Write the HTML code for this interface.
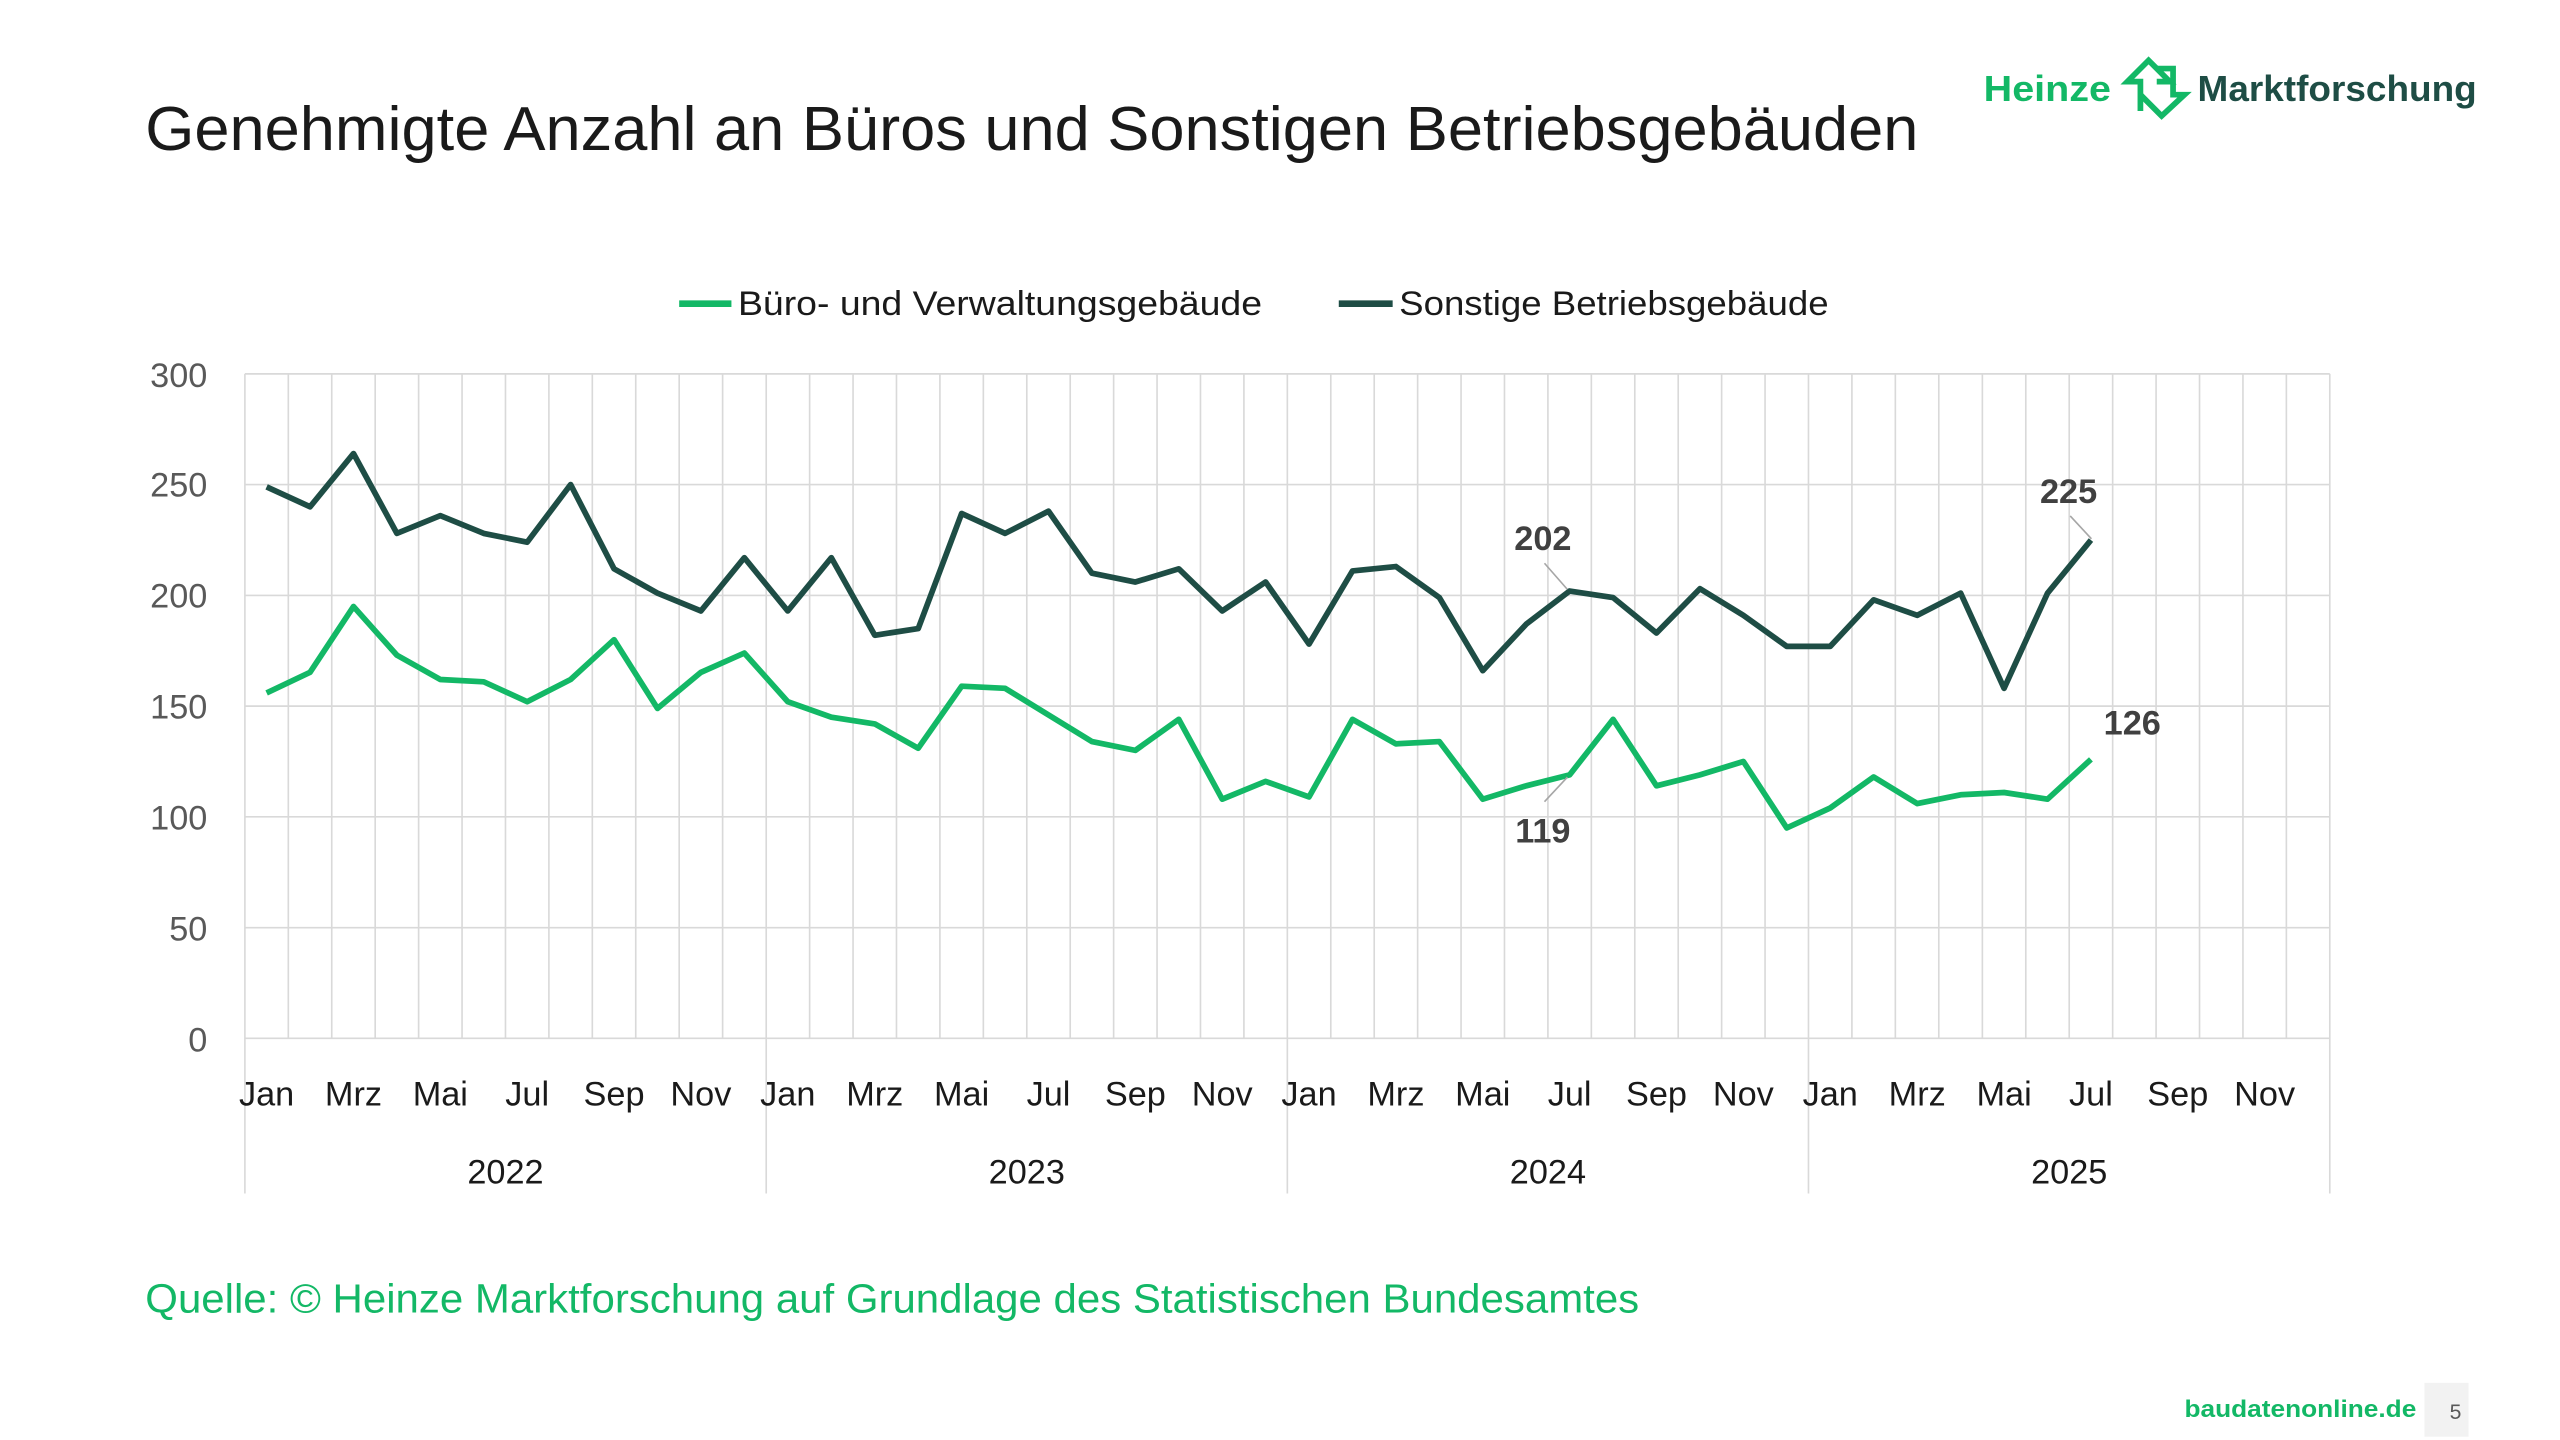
<!DOCTYPE html>
<html><head><meta charset="utf-8"><style>
html,body{margin:0;padding:0;background:#fff;}
svg{display:block;}
text{font-family:"Liberation Sans",sans-serif;}
</style></head><body>
<svg width="2560" height="1440" viewBox="0 0 1568 882" xmlns="http://www.w3.org/2000/svg">
<rect width="1568" height="882" fill="#fff"/>
<text x="89" y="92" font-size="38" fill="#1a1a1a" textLength="1086" lengthAdjust="spacingAndGlyphs">Genehmigte Anzahl an Büros und Sonstigen Betriebsgebäuden</text>
<text x="1215" y="62" font-size="22" font-weight="bold" fill="#13b866" textLength="78" lengthAdjust="spacingAndGlyphs">Heinze</text>
<g fill="none" stroke="#13b866" stroke-width="3.5">
<path d="M1311 68 V50 H1303 L1316 37 L1329 50 H1321"/>
<path d="M1321 42 H1331 V58 H1338 L1324 71 L1311 58"/>
</g>
<text x="1346" y="62" font-size="22" font-weight="bold" fill="#1e4d45" textLength="171" lengthAdjust="spacingAndGlyphs">Marktforschung</text>
<line x1="416" y1="186" x2="448" y2="186" stroke="#13b866" stroke-width="4"/>
<text x="452" y="193" font-size="21" fill="#1a1a1a" textLength="321" lengthAdjust="spacingAndGlyphs">Büro- und Verwaltungsgebäude</text>
<line x1="820" y1="186" x2="853" y2="186" stroke="#1e4d45" stroke-width="4"/>
<text x="857" y="193" font-size="21" fill="#1a1a1a" textLength="263" lengthAdjust="spacingAndGlyphs">Sonstige Betriebsgebäude</text>
<g stroke="#d9d9d9" stroke-width="1">
<line x1="150" x2="1427" y1="636" y2="636"/><line x1="150" x2="1427" y1="568.2" y2="568.2"/><line x1="150" x2="1427" y1="500.3" y2="500.3"/><line x1="150" x2="1427" y1="432.5" y2="432.5"/><line x1="150" x2="1427" y1="364.7" y2="364.7"/><line x1="150" x2="1427" y1="296.8" y2="296.8"/><line x1="150" x2="1427" y1="229" y2="229"/>
<line x1="150" x2="150" y1="229" y2="731"/><line x1="176.6" x2="176.6" y1="229" y2="636"/><line x1="203.2" x2="203.2" y1="229" y2="636"/><line x1="229.8" x2="229.8" y1="229" y2="636"/><line x1="256.4" x2="256.4" y1="229" y2="636"/><line x1="283" x2="283" y1="229" y2="636"/><line x1="309.6" x2="309.6" y1="229" y2="636"/><line x1="336.2" x2="336.2" y1="229" y2="636"/><line x1="362.8" x2="362.8" y1="229" y2="636"/><line x1="389.4" x2="389.4" y1="229" y2="636"/><line x1="416" x2="416" y1="229" y2="636"/><line x1="442.6" x2="442.6" y1="229" y2="636"/>
<line x1="469.3" x2="469.3" y1="229" y2="731"/><line x1="495.9" x2="495.9" y1="229" y2="636"/><line x1="522.5" x2="522.5" y1="229" y2="636"/><line x1="549.1" x2="549.1" y1="229" y2="636"/><line x1="575.7" x2="575.7" y1="229" y2="636"/><line x1="602.3" x2="602.3" y1="229" y2="636"/><line x1="628.9" x2="628.9" y1="229" y2="636"/><line x1="655.5" x2="655.5" y1="229" y2="636"/><line x1="682.1" x2="682.1" y1="229" y2="636"/><line x1="708.7" x2="708.7" y1="229" y2="636"/><line x1="735.3" x2="735.3" y1="229" y2="636"/><line x1="761.9" x2="761.9" y1="229" y2="636"/>
<line x1="788.5" x2="788.5" y1="229" y2="731"/><line x1="815.1" x2="815.1" y1="229" y2="636"/><line x1="841.7" x2="841.7" y1="229" y2="636"/><line x1="868.3" x2="868.3" y1="229" y2="636"/><line x1="894.9" x2="894.9" y1="229" y2="636"/><line x1="921.5" x2="921.5" y1="229" y2="636"/><line x1="948.1" x2="948.1" y1="229" y2="636"/><line x1="974.7" x2="974.7" y1="229" y2="636"/><line x1="1001.3" x2="1001.3" y1="229" y2="636"/><line x1="1027.9" x2="1027.9" y1="229" y2="636"/><line x1="1054.5" x2="1054.5" y1="229" y2="636"/><line x1="1081.1" x2="1081.1" y1="229" y2="636"/>
<line x1="1107.7" x2="1107.7" y1="229" y2="731"/><line x1="1134.3" x2="1134.3" y1="229" y2="636"/><line x1="1160.9" x2="1160.9" y1="229" y2="636"/><line x1="1187.5" x2="1187.5" y1="229" y2="636"/><line x1="1214.2" x2="1214.2" y1="229" y2="636"/><line x1="1240.8" x2="1240.8" y1="229" y2="636"/><line x1="1267.4" x2="1267.4" y1="229" y2="636"/><line x1="1294" x2="1294" y1="229" y2="636"/><line x1="1320.6" x2="1320.6" y1="229" y2="636"/><line x1="1347.2" x2="1347.2" y1="229" y2="636"/><line x1="1373.8" x2="1373.8" y1="229" y2="636"/><line x1="1400.4" x2="1400.4" y1="229" y2="636"/>
<line x1="1427" x2="1427" y1="229" y2="731"/>
</g>
<g font-size="21" fill="#595959" text-anchor="end">
<text x="127" y="644">0</text><text x="127" y="576">50</text><text x="127" y="508">100</text><text x="127" y="440">150</text><text x="127" y="372">200</text><text x="127" y="304">250</text><text x="127" y="237">300</text>
</g>
<g font-size="21" fill="#1a1a1a" text-anchor="middle">
<text x="163.3" y="677">Jan</text><text x="216.5" y="677">Mrz</text><text x="269.7" y="677">Mai</text><text x="322.9" y="677">Jul</text><text x="376.1" y="677">Sep</text><text x="429.3" y="677">Nov</text>
<text x="482.5" y="677">Jan</text><text x="535.8" y="677">Mrz</text><text x="589" y="677">Mai</text><text x="642.2" y="677">Jul</text><text x="695.4" y="677">Sep</text><text x="748.6" y="677">Nov</text>
<text x="801.8" y="677">Jan</text><text x="855" y="677">Mrz</text><text x="908.2" y="677">Mai</text><text x="961.4" y="677">Jul</text><text x="1014.6" y="677">Sep</text><text x="1067.8" y="677">Nov</text>
<text x="1121" y="677">Jan</text><text x="1174.3" y="677">Mrz</text><text x="1227.5" y="677">Mai</text><text x="1280.7" y="677">Jul</text><text x="1333.9" y="677">Sep</text><text x="1387.1" y="677">Nov</text>
<text x="309.6" y="725">2022</text><text x="628.9" y="725">2023</text><text x="948.1" y="725">2024</text><text x="1267.4" y="725">2025</text>
</g>
<polyline fill="none" stroke="#1e4d45" stroke-width="3.5" stroke-linejoin="round" points="163.3,298.2 189.9,310.4 216.5,277.8 243.1,326.7 269.7,315.8 296.3,326.7 322.9,332.1 349.5,296.8 376.1,348.4 402.7,363.3 429.3,374.2 455.9,341.6 482.5,374.2 509.2,341.6 535.8,389.1 562.4,385.0 589.0,314.5 615.6,326.7 642.2,313.1 668.8,351.1 695.4,356.5 722.0,348.4 748.6,374.2 775.2,356.5 801.8,394.5 828.4,349.7 855.0,347.0 881.6,366.0 908.2,410.8 934.8,382.3 961.4,362.0 988.0,366.0 1014.6,387.7 1041.2,360.6 1067.8,376.9 1094.4,395.9 1121.0,395.9 1147.6,367.4 1174.3,376.9 1200.9,363.3 1227.5,421.6 1254.1,363.3 1280.7,330.8"/>
<polyline fill="none" stroke="#13b866" stroke-width="3.5" stroke-linejoin="round" points="163.3,424.4 189.9,411.8 216.5,371.5 243.1,401.3 269.7,416.2 296.3,417.6 322.9,429.8 349.5,416.2 376.1,391.8 402.7,433.9 429.3,411.8 455.9,400.0 482.5,429.8 509.2,439.3 535.8,443.4 562.4,458.3 589.0,420.3 615.6,421.6 642.2,437.9 668.8,454.2 695.4,459.6 722.0,440.6 748.6,489.5 775.2,478.6 801.8,488.1 828.4,440.6 855.0,455.6 881.6,454.2 908.2,489.5 934.8,481.3 961.4,474.6 988.0,440.6 1014.6,481.3 1041.2,474.6 1067.8,466.4 1094.4,507.1 1121.0,494.9 1147.6,475.9 1174.3,492.2 1200.9,486.8 1227.5,485.4 1254.1,489.5 1280.7,465.1"/>
<g stroke="#a6a6a6" stroke-width="1">
<line x1="946" y1="345" x2="960" y2="361"/>
<line x1="946" y1="491" x2="960" y2="476"/>
<line x1="1268" y1="316" x2="1281" y2="330"/>
</g>
<g font-size="21" font-weight="bold" fill="#404040" text-anchor="middle">
<text x="945" y="337">202</text>
<text x="945" y="516">119</text>
<text x="1267" y="308">225</text>
<text x="1306" y="450">126</text>
</g>
<text x="89" y="804" font-size="25" fill="#13b866" textLength="915" lengthAdjust="spacingAndGlyphs">Quelle: © Heinze Marktforschung auf Grundlage des Statistischen Bundesamtes</text>
<text x="1338" y="868" font-size="15" font-weight="bold" fill="#13b866" textLength="142" lengthAdjust="spacingAndGlyphs">baudatenonline.de</text>
<rect x="1485" y="847" width="27" height="33" fill="#f2f2f2"/>
<text x="1504" y="869" font-size="13" fill="#595959" text-anchor="middle">5</text>
</svg>
</body></html>
